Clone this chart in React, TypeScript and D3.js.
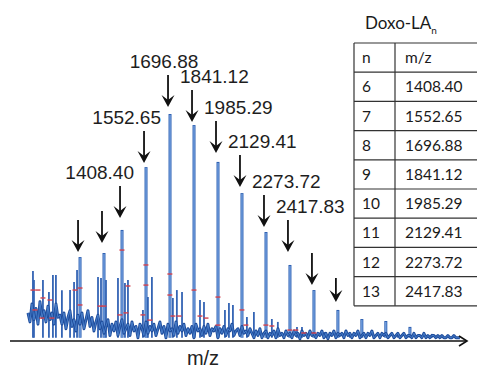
import React from "react";
import * as d3 from "d3";

// labelled + arrowed series peaks (m/z, relative intensity)
const mainMz = [1156, 1300, 1408.4, 1552.65, 1696.88, 1841.12, 1985.29, 2129.41, 2273.72, 2417.83, 2562, 2706];
const mainInt = [36.7, 38.5, 48.7, 76.5, 100, 95.1, 78.8, 65, 47.8, 33.2, 22.1, 13.3];
const arrowTip = [38.9, 42.9, 54, 78.3, 103.1, 96.5, 82.7, 67.7, 50, 38.9, 24.3, 16.8];
const mainLabels = ["", "", "1408.40", "1552.65", "1696.88", "1841.12", "1985.29", "2129.41", "2273.72", "2417.83", "", ""];

// series peaks past the last arrow
const tailMz = [2850, 2994, 3139];
const tailInt = [9.3, 8.4, 5.8];

// smaller spikes
const minorMz = [873, 879, 933, 969, 993, 1011, 1047, 1096, 1120, 1138, 1264, 1282, 1312, 1384, 1426, 1444, 1534, 1564, 1588, 1714, 1738, 1769, 1877, 1901, 2027, 2051, 2075, 2159, 2201, 2309, 2345, 2460, 2490, 2628, 2778, 3066, 3271];
const minorInt = [30.5, 26.5, 26.5, 21.2, 28.8, 28.8, 22, 22.1, 25.7, 31, 27.9, 27.4, 26.5, 27.4, 25.2, 26.5, 13.3, 19, 27.9, 18.6, 22.1, 21.2, 17.7, 16.8, 13.3, 16.4, 15.5, 10.2, 12.4, 9.3, 8, 5.8, 5.8, 3.5, 3, 3, 2.7];

// baseline noise, sampled every noiseStep from noiseStart
const noiseStart = 843;
const noiseStep = 12.02;
const noise = [
  12, 8, 16, 9, 14, 7, 17, 10, 13, 8, 15, 9, 12, 7, 16, 10, 11,
  7, 12, 5, 10, 13, 6, 9, 4, 11, 7, 12, 5, 9, 13, 6, 10, 4, 8, 11, 5,
  8, 3, 6, 9, 2, 7, 4, 8, 2, 6,
  9, 3, 5, 7, 2, 8, 4, 6, 1, 7,
  5, 2, 8, 3, 6, 4, 7, 2, 5, 8,
  3, 6, 1, 7, 4, 5, 2, 8, 3, 6,
  4, 7, 2, 5, 3, 6, 1, 7, 4, 5,
  2, 6, 3, 7, 2, 5, 4, 6, 1, 5,
  3, 6, 2, 5, 4, 7, 2, 4, 5, 2,
  6, 3, 4, 2, 5,
  3, 1, 4, 2, 5, 1, 3, 4, 1, 3,
  2, 4, 1, 5, 2, 3, 1, 4, 2, 3,
  1, 4, 2, 3, 0.5, 4, 2, 3, 1, 4,
  2, 3, 1, 3, 2, 4, 1, 3, 0.5, 3,
  2, 4, 1, 3, 2, 3, 1, 4, 2, 3,
  1, 3, 2, 4, 1, 2, 3, 1, 3, 2,
  4, 1, 2, 3, 1, 3, 2, 3, 1, 2,
  3, 1, 2, 3, 1, 2, 3, 1, 2, 2,
  1, 3, 1, 2, 2, 1, 3, 1, 2, 1,
  2, 2, 1, 2, 1, 2, 1, 1, 2, 1,
  1, 2, 1, 1, 1,
];

// red centroid marks
const redMz = [873, 903, 933, 975, 885, 927, 987, 1126, 1156, 1156, 1276, 1300, 1408, 1444, 1396, 1432, 1552, 1552, 1534, 1576, 1696, 1696, 1714, 1751, 1841, 1877, 1913, 1985, 1985, 2129, 2153, 2273, 2309, 2417, 2453, 2501, 2562];
const redInt = [22.1, 22.1, 18.6, 17.7, 13.3, 9.7, 9.7, 22.1, 23, 15.5, 15, 15, 39.8, 23.9, 11.1, 12, 33.2, 24.3, 11.1, 8.8, 29.2, 19.9, 10.6, 10.6, 22.1, 10.6, 9.7, 19, 6.6, 13.3, 6.6, 6.6, 6.2, 4.4, 4.4, 3.1, 3.1];

// table
const tableTitle = "Doxo-LA";
const tableHead = ["n", "m/z"];
const tableN = ["6", "7", "8", "9", "10", "11", "12", "13"];
const tableMz = ["1408.40", "1552.65", "1696.88", "1841.12", "1985.29", "2129.41", "2273.72", "2417.83"];

const W = 477;
const H = 368;

export default function App() {
  const x = d3.scaleLinear().domain([735, 3482]).range([10, 467]);
  const y = d3.scaleLinear().domain([0, 100]).range([340, 114]);

  const noisePts: [number, number][] = noise.map((v, i) => [noiseStart + i * noiseStep, v]);
  const noiseLine = d3.line<[number, number]>().x(d => x(d[0])).y(d => y(d[1]));
  const nd = noiseLine(noisePts) || "";

  const minor = minorMz.map((m, i) => ({ m, v: minorInt[i] }));
  const big = [
    ...tailMz.map((m, i) => ({ m, v: tailInt[i] })),
    ...mainMz.map((m, i) => ({ m, v: mainInt[i] })),
  ];

  const rowTop = 43;
  const rowH = 29.2;
  const tLeft = 354;
  const tDiv = 395;
  const rows = [tableHead, ...tableN.map((n, i) => [n, tableMz[i]])];
  const tBottom = rowTop + rows.length * rowH;

  const axisY = 341;

  return (
    <svg width={W} height={H} style={{ position: "absolute", left: 0, top: 0, background: "#fff" }}>
      {/* small spikes */}
      <g stroke="#3464b4">
        {minor.map((s, i) => (
          <line key={i} x1={x(s.m)} x2={x(s.m)} y1={y(1)} y2={y(s.v)} strokeWidth={1.8} />
        ))}
      </g>
      {/* series peaks */}
      <g>
        {big.map((s, i) => (
          <g key={i}>
            <line x1={x(s.m)} x2={x(s.m)} y1={y(1)} y2={y(s.v)} stroke="#3062b3" strokeWidth={3} />
            <line x1={x(s.m)} x2={x(s.m)} y1={y(1)} y2={y(s.v) + 1} stroke="#7eaae6" strokeWidth={1.2} />
          </g>
        ))}
      </g>
      {/* noise band */}
      <path d={nd} fill="none" stroke="#1f4d9c" strokeWidth={2.9} strokeLinejoin="round" />
      <path d={nd} fill="none" stroke="#4f86d2" strokeWidth={0.8} />
      {/* red marks */}
      <g fill="#d2424e">
        {redMz.map((m, i) => (
          <rect key={i} x={x(m) - 2.5} y={y(redInt[i]) - 0.7} width={5} height={1.4} />
        ))}
      </g>
      {/* axis */}
      <line x1={10} x2={466} y1={axisY} y2={axisY} stroke="#111" strokeWidth={1.6} />
      <path d={`M${459},${axisY - 5} L${467},${axisY} L${459},${axisY + 5}`} fill="none" stroke="#111" strokeWidth={1.6} />
      <text x={203} y={365} textAnchor="middle" fontFamily="Liberation Sans, Arial, sans-serif" fontSize={20} fill="#222">m/z</text>
      {/* arrows + labels */}
      <g>
        {mainMz.map((m, i) => {
          const ax = x(m) - 2;
          const tip = y(arrowTip[i]);
          const len = i === mainMz.length - 1 ? 24 : 32;
          const top = tip - len;
          const lab = mainLabels[i];
          let anchor = "start";
          let lx = ax - 12;
          if (lab === "1408.40") { anchor = "end"; lx = ax + 14; }
          if (lab === "1552.65") { anchor = "end"; lx = ax + 17; }
          if (lab === "1696.88") { anchor = "middle"; lx = ax - 4; }
          return (
            <g key={i}>
              <line x1={ax} x2={ax} y1={top} y2={tip - 6} stroke="#111" strokeWidth={1.8} />
              <path d={`M${ax},${tip} L${ax - 6.5},${tip - 12} L${ax},${tip - 7} L${ax + 6.5},${tip - 12} Z`} fill="#111" />
              {lab && (
                <text x={lx} y={top - 7} textAnchor={anchor} fontFamily="Liberation Sans, Arial, sans-serif" fontSize={19} fill="#1e1e1e">
                  {lab}
                </text>
              )}
            </g>
          );
        })}
      </g>
      {/* table */}
      <text x={365} y={29} fontFamily="Lato, sans-serif" fontSize={17} fill="#1a1a1a">
        {tableTitle}
        <tspan fontSize={10} dy={5}>n</tspan>
      </text>
      <g stroke="#333" strokeWidth={1.2}>
        {d3.range(rows.length + 1).map(i => (
          <line key={i} x1={tLeft} x2={W} y1={rowTop + i * rowH} y2={rowTop + i * rowH} />
        ))}
        <line x1={tLeft} x2={tLeft} y1={rowTop} y2={tBottom} />
        <line x1={tDiv} x2={tDiv} y1={rowTop} y2={tBottom} />
      </g>
      <g fontFamily="Lato, sans-serif" fontSize={15.5} fill="#1a1a1a">
        {rows.map((r, i) => (
          <g key={i}>
            <text x={362} y={rowTop + i * rowH + rowH / 2 + 5.5}>{r[0]}</text>
            <text x={405} y={rowTop + i * rowH + rowH / 2 + 5.5}>{r[1]}</text>
          </g>
        ))}
      </g>
    </svg>
  );
}
